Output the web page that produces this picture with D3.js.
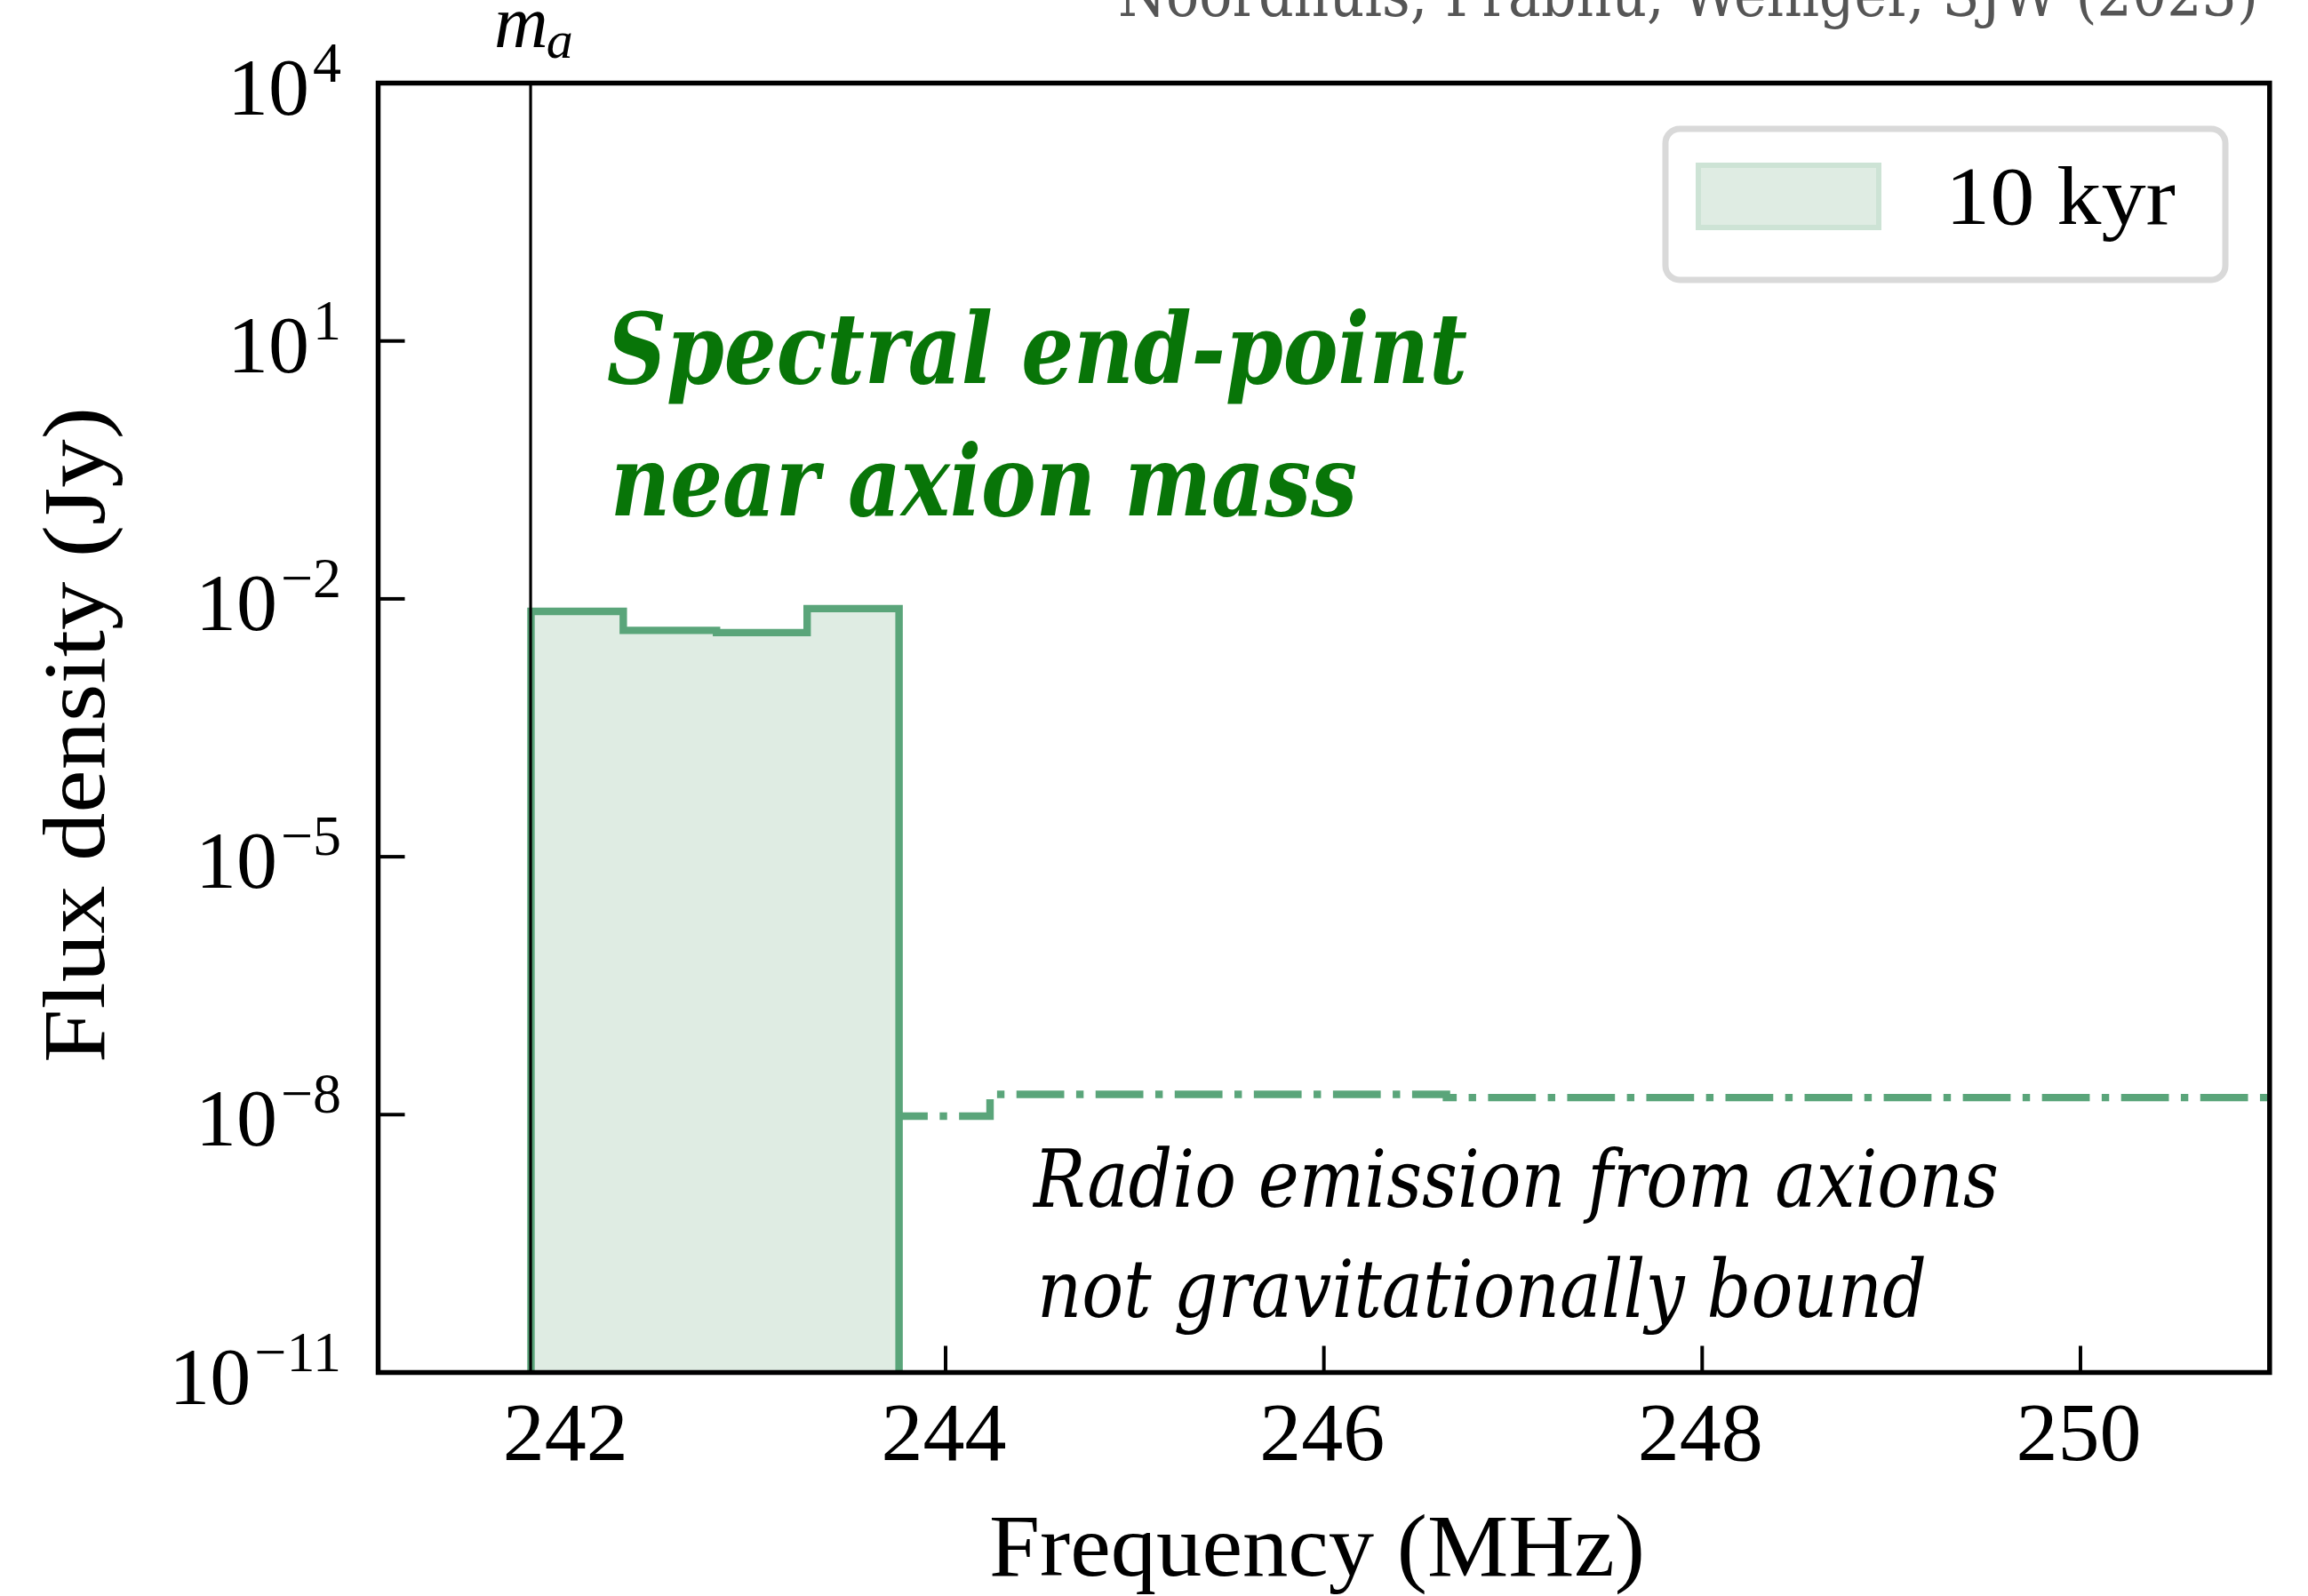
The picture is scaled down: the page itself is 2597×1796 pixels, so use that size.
<!DOCTYPE html>
<html>
<head>
<meta charset="utf-8">
<script src="https://cdn.jsdelivr.net/npm/d3@7"></script>
<style>
  html, body { margin: 0; padding: 0; background: #ffffff; }
  svg { display: block; }
</style>
</head>
<body>
<script>
// Frequency axis ticks (MHz) and flux-density decade ticks (exponents of 10)
const freqTicks = [242, 244, 246, 248, 250];
const fluxTickExps = [4, 1, -2, -5, -8, -11];

// Axion mass marker (MHz)
const axionMass = 241.806;

// Gravitationally bound population: bin edges (MHz) and flux density per bin (Jy)
const boundEdges = [241.808, 242.296, 242.789, 243.268, 243.754];
const boundFlux = [7.15e-3, 4.3e-3, 4.05e-3, 7.7e-3];

// Unbound population: step edges (MHz) and flux density (Jy)
const unboundEdges = [243.754, 244.235, 246.648, 251.2];
const unboundFlux = [9.6e-9, 1.72e-8, 1.58e-8];

const legendLabel = "10 kyr";
const xLabel = "Frequency (MHz)";
const yLabel = "Flux density (Jy)";
const boundNote = ["Spectral end-point", "near axion mass"];
const unboundNote = ["Radio emission from axions", "not gravitationally bound"];
const credit = "Noordhuis, Prabhu, Weniger, SJW (2023)";

const W = 2597, H = 1796;
const plot = { left: 425.5, right: 2553.8, top: 93.5, bottom: 1544.5 };

const lineGreen = "#5aa57a";
const fillGreen = "#dfece3";
const noteGreen = "#087508";
const serif = "'Liberation Serif', 'Times New Roman', serif";
const noteFont = "'DejaVu Serif', serif";

const svg = d3.select("body").append("svg")
  .attr("width", W).attr("height", H)
  .attr("viewBox", `0 0 ${W} ${H}`);

svg.append("rect").attr("width", W).attr("height", H).attr("fill", "#ffffff");

const x = d3.scaleLinear().domain([241, 251]).range([plot.left, plot.right]);
const y = d3.scaleLog().domain([1e-11, 1e4]).range([plot.bottom, plot.top]);

svg.append("clipPath").attr("id", "plot-clip")
  .append("rect")
  .attr("x", plot.left).attr("y", plot.top)
  .attr("width", plot.right - plot.left).attr("height", plot.bottom - plot.top);

// Inward ticks (drawn first so the filled spectrum sits over them)
const tickLen = 30;
const ticks = svg.append("g").attr("stroke", "#000").attr("stroke-width", 4);
ticks.selectAll("line.xt").data(freqTicks).join("line")
  .attr("class", "xt")
  .attr("x1", d => x(d)).attr("x2", d => x(d))
  .attr("y1", plot.bottom).attr("y2", plot.bottom - tickLen);
ticks.selectAll("line.yt").data(fluxTickExps).join("line")
  .attr("class", "yt")
  .attr("x1", plot.left).attr("x2", plot.left + tickLen)
  .attr("y1", d => y(Math.pow(10, d))).attr("y2", d => y(Math.pow(10, d)));

// Build step outlines from edges/values
function stepPoints(edges, vals) {
  const pts = [];
  vals.forEach((v, i) => { pts.push([edges[i], v]); pts.push([edges[i + 1], v]); });
  return pts;
}
const line = d3.line().x(d => x(d[0])).y(d => y(d[1]));

const plotG = svg.append("g").attr("clip-path", "url(#plot-clip)");

const boundPts = stepPoints(boundEdges, boundFlux);
const yFloor = 1e-11;
const boundPoly = [[boundEdges[0], yFloor], ...boundPts, [boundEdges[boundEdges.length - 1], yFloor]];

plotG.append("path")
  .attr("d", line(boundPoly) + "Z")
  .attr("fill", fillGreen).attr("stroke", "none");

plotG.append("path")
  .attr("d", line(boundPoly))
  .attr("fill", "none").attr("stroke", lineGreen)
  .attr("stroke-width", 8.4).attr("stroke-linejoin", "miter");

const lw = 8.4;
plotG.append("path")
  .attr("d", line(stepPoints(unboundEdges, unboundFlux)))
  .attr("fill", "none").attr("stroke", lineGreen)
  .attr("stroke-width", lw)
  .attr("stroke-dasharray", [6.4 * lw, 1.6 * lw, 1.0 * lw, 1.6 * lw].join(","))
  .attr("stroke-dashoffset", 21.5)
  .attr("stroke-linecap", "butt");

// Axion mass marker
plotG.append("line")
  .attr("x1", x(axionMass)).attr("x2", x(axionMass))
  .attr("y1", plot.top).attr("y2", plot.bottom)
  .attr("stroke", "#000").attr("stroke-width", 3.2);

// Axes frame
svg.append("rect")
  .attr("x", plot.left).attr("y", plot.top)
  .attr("width", plot.right - plot.left).attr("height", plot.bottom - plot.top)
  .attr("fill", "none").attr("stroke", "#000").attr("stroke-width", 5.5);

// X tick labels
svg.append("g").selectAll("text").data(freqTicks).join("text")
  .attr("x", d => x(d) - 2).attr("y", 1643)
  .attr("text-anchor", "middle")
  .attr("font-family", serif).attr("font-size", 94)
  .attr("fill", "#000")
  .text(d => d);

// Y tick labels: 10 with superscript exponent
const yLab = svg.append("g").selectAll("text").data(fluxTickExps).join("text")
  .attr("x", 384).attr("y", d => y(Math.pow(10, d)) + 35)
  .attr("text-anchor", "end")
  .attr("font-family", serif).attr("fill", "#000");
yLab.append("tspan").attr("font-size", 92).text("10");
yLab.append("tspan").attr("font-size", 64).attr("dy", -37).attr("dx", 4)
  .text(d => (d < 0 ? "\u2212" + Math.abs(d) : String(d)));

// Axis labels
svg.append("text")
  .attr("x", 1113).attr("y", 1773)
  .attr("font-family", serif).attr("font-size", 100).attr("fill", "#000")
  .attr("textLength", 738).attr("lengthAdjust", "spacingAndGlyphs")
  .text(xLabel);

svg.append("text")
  .attr("transform", "translate(117,1196) rotate(-90)")
  .attr("font-family", serif).attr("font-size", 100).attr("fill", "#000")
  .attr("textLength", 738).attr("lengthAdjust", "spacingAndGlyphs")
  .text(yLabel);

// Axion mass label
const mLab = svg.append("text")
  .attr("x", 556).attr("y", 53)
  .attr("font-family", serif).attr("font-style", "italic").attr("fill", "#000");
mLab.append("tspan").attr("font-size", 84).text("m");
mLab.append("tspan").attr("font-size", 60).attr("dy", 12).attr("dx", -2).text("a");

// Credit line
svg.append("text")
  .attr("x", 1258).attr("y", 18)
  .attr("font-family", noteFont).attr("font-size", 70).attr("fill", "#555")
  .attr("textLength", 1283).attr("lengthAdjust", "spacingAndGlyphs")
  .text(credit);

// Annotations
const noteBound = [
  { t: boundNote[0], x: 683, y: 431, len: 968 },
  { t: boundNote[1], x: 687, y: 580, len: 840 }
];
svg.append("g").selectAll("text").data(noteBound).join("text")
  .attr("x", d => d.x).attr("y", d => d.y)
  .attr("font-family", noteFont).attr("font-size", 110)
  .attr("font-weight", "bold").attr("font-style", "italic")
  .attr("fill", noteGreen)
  .attr("textLength", d => d.len).attr("lengthAdjust", "spacingAndGlyphs")
  .text(d => d.t);

const noteUnbound = [
  { t: unboundNote[0], x: 1163, y: 1358, len: 1086 },
  { t: unboundNote[1], x: 1167, y: 1482, len: 1001 }
];
svg.append("g").selectAll("text").data(noteUnbound).join("text")
  .attr("x", d => d.x).attr("y", d => d.y)
  .attr("font-family", noteFont).attr("font-size", 90)
  .attr("font-style", "italic")
  .attr("fill", "#000")
  .attr("textLength", d => d.len).attr("lengthAdjust", "spacingAndGlyphs")
  .text(d => d.t);

// Legend
const leg = svg.append("g");
leg.append("rect")
  .attr("x", 1874).attr("y", 145).attr("width", 630).attr("height", 170)
  .attr("rx", 16).attr("ry", 16)
  .attr("fill", "#ffffff").attr("stroke", "#d9d9d9").attr("stroke-width", 7);
leg.append("rect")
  .attr("x", 1911).attr("y", 186).attr("width", 203).attr("height", 70)
  .attr("fill", fillGreen).attr("stroke", "#cde3d5").attr("stroke-width", 6);
leg.append("text")
  .attr("x", 2189).attr("y", 252)
  .attr("font-family", serif).attr("font-size", 93).attr("fill", "#000")
  .attr("textLength", 259).attr("lengthAdjust", "spacingAndGlyphs")
  .text(legendLabel);
</script>
</body>
</html>
